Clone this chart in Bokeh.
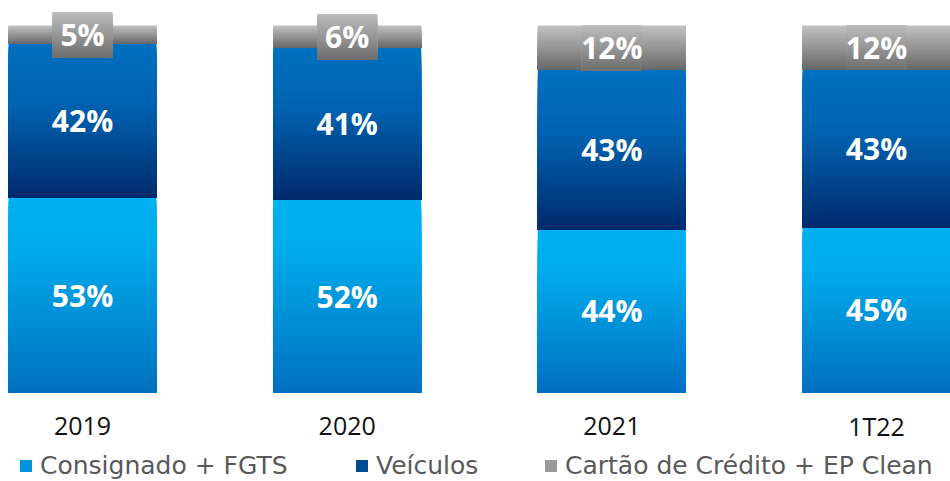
import numpy as np
from bokeh.plotting import figure
from bokeh.models import ColumnDataSource, Range1d, Legend, LegendItem
from bokeh.core.properties import value
from bokeh.embed import file_html
from bokeh.resources import INLINE

# ---------------- data ----------------
categories = ["2019", "2020", "2021", "1T22"]
consignado = [53, 52, 44, 45]
veiculos = [42, 41, 43, 43]
cartao = [5, 6, 12, 12]
series_names = ["Consignado + FGTS", "Veículos", "Cartão de Crédito + EP Clean"]

# ---------------- styles ----------------
FONT = "Open Sans"
LEGEND_FONT = "DejaVu Sans"
grad_light = [(0.0, "#00B0F0"), (0.25, "#00ACEC"), (1.0, "#0070C0")]
grad_dark = [(0.0, "#0070C0"), (0.4, "#0062B0"), (1.0, "#002A6C")]
grad_grey = [(0.0, "#C2C2C2"), (1.0, "#686868")]
grad_box = [(0.0, "#BDBDBD"), (1.0, "#6E6E6E")]
legend_colors = ["#0094DA", "#004C94", "#9A9A9A"]
N_SLICES = 48
BAR_W = 0.5592
BOX_W = 0.2267
BOX_H = 12.3


def hex2rgb(h):
    h = h.lstrip("#")
    return np.array([int(h[i:i + 2], 16) for i in (0, 2, 4)], dtype=float)


def grad_color(stops, t):
    for (t0, c0), (t1, c1) in zip(stops[:-1], stops[1:]):
        if t <= t1:
            f = 0 if t1 == t0 else (t - t0) / (t1 - t0)
            c = hex2rgb(c0) * (1 - f) + hex2rgb(c1) * f
            return "#%02x%02x%02x" % tuple(int(round(v)) for v in c)
    return stops[-1][1]


def gradient_source(xs, bottoms, tops, stops):
    # each slice spans from the segment bottom up to its own top, drawn top-first,
    # so that no seams appear between slices
    data = dict(x=[], bottom=[], top=[], color=[])
    for k in range(N_SLICES):
        for x, b, t in zip(xs, bottoms, tops):
            data["x"].append(x)
            data["bottom"].append(b)
            data["top"].append(t - (t - b) * k / N_SLICES)
            data["color"].append(grad_color(stops, (k + 0.5) / N_SLICES))
    return ColumnDataSource(data)


xpos = np.arange(len(categories))
raw = np.array([consignado, veiculos, cartao], dtype=float)
shares = raw / raw.sum(axis=0) * 100.0
bottoms = np.vstack([np.zeros(len(categories)), np.cumsum(shares, axis=0)[:-1]])
tops = np.cumsum(shares, axis=0)

p = figure(width=950, height=481,
           x_range=Range1d(-0.3098, 3.2795),
           y_range=Range1d(-24.25, 106.81),
           x_axis_location=None, y_axis_location=None,
           toolbar_location=None, output_backend="svg",
           min_border=0, outline_line_color=None)
p.grid.visible = False
p.background_fill_color = "white"
p.border_fill_color = "white"

grads = [grad_light, grad_dark, grad_grey]
for i in range(3):
    src = gradient_source(xpos, bottoms[i], tops[i], grads[i])
    p.vbar(x="x", width=BAR_W, bottom="bottom", top="top", fill_color="color",
           line_color=None, source=src)

# label boxes behind the labels of grey segments that are too thin for their label
mid_grey = (bottoms[2] + tops[2]) / 2
small = shares[2] < BOX_H
box_src = gradient_source(xpos[small], (mid_grey - BOX_H / 2)[small],
                          (mid_grey + BOX_H / 2)[small], grad_box)
p.vbar(x="x", width=BOX_W, bottom="bottom", top="top", fill_color="color",
       line_color=None, source=box_src)

# data labels
for i, vals in enumerate([consignado, veiculos, cartao]):
    mids = (bottoms[i] + tops[i]) / 2
    src = ColumnDataSource(dict(x=xpos, y=mids, t=[f"{v}%" for v in vals]))
    p.text(x="x", y="y", text="t", source=src, text_color="white",
           text_font=value(FONT), text_font_style="bold", text_font_size="30px",
           text_align="center", text_baseline="middle")

# category labels
cat_src = ColumnDataSource(dict(x=xpos, y=[-9.0] * len(categories), t=categories))
p.text(x="x", y="y", text="t", source=cat_src, text_color="#111111",
       text_font=value(FONT), text_font_size="25px",
       text_align="center", text_baseline="middle")

# legend: one legend per item to reproduce the item positions
leg_x = [18, 354, 543]
for name, col, lx in zip(series_names, legend_colors, leg_x):
    r = p.vbar(x=[0], width=0.1, bottom=[-200], top=[-199], fill_color=col,
               line_color=None)
    leg = Legend(items=[LegendItem(label=name, renderers=[r])],
                 location=(lx, 1), orientation="horizontal",
                 glyph_width=15, glyph_height=15, label_standoff=7,
                 padding=0, margin=0, border_line_color=None,
                 background_fill_alpha=0,
                 label_text_font=LEGEND_FONT, label_text_font_size="25px",
                 label_text_color="#595959")
    p.add_layout(leg, "center")

open("out.html", "w").write(file_html(p, INLINE))
